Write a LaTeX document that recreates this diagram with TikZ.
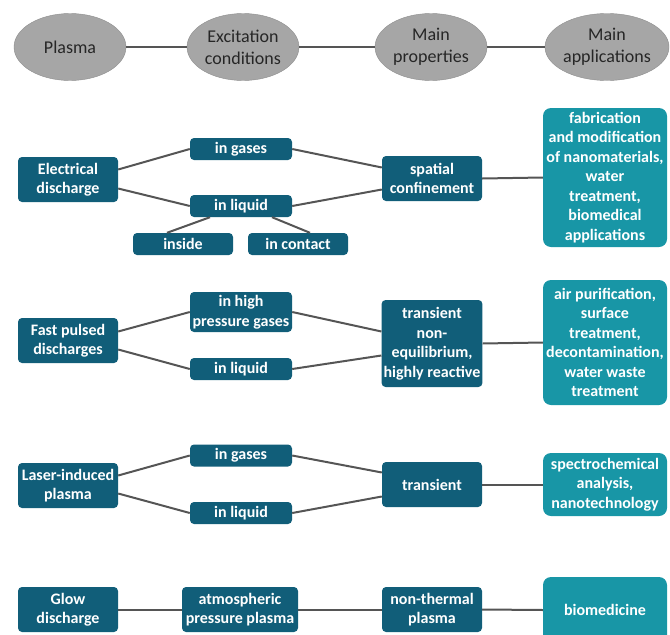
\documentclass[tikz,border=0pt]{standalone}
\usepackage{fontspec}
\setmainfont{Carlito}
\usetikzlibrary{shapes.geometric}
\definecolor{darkteal}{RGB}{17,94,121}
\definecolor{lightteal}{RGB}{24,150,166}
\definecolor{ovalgray}{RGB}{166,166,166}
\definecolor{linegray}{RGB}{85,85,85}

\begin{document}
\begin{tikzpicture}[x=1pt,y=-1pt,
	oval/.style={ellipse, fill=ovalgray, draw=ovalgray!85!black, minimum width=112pt, minimum height=67pt, inner sep=0pt, align=center, text=black!85, font=\fontsize{18}{22}\selectfont},
	dbox/.style={rectangle, rounded corners=4pt, fill=darkteal, text=white, minimum width=100pt, minimum height=22pt, inner sep=2pt, align=center, font=\fontsize{16}{19.5}\selectfont\bfseries},
	lbox/.style={dbox, fill=lightteal, minimum width=124pt, rounded corners=8pt},
	link/.style={draw=linegray, line width=2pt}]
	\useasboundingbox (0,0) rectangle (670,635);

	\node[oval] (plasma) at (70,47) {Plasma};
	\node[oval] (excit) at (243,47) {Excitation\\conditions};
	\node[oval] (props) at (431,47) {Main\\properties};
	\node[oval] (appl) at (607,47) {Main\\applications};
	\draw[link] (plasma.east) -- (excit.west);
	\draw[link] (excit.east) -- (props.west);
	\draw[link] (props.east) -- (appl.west);

	\node[dbox, minimum height=45pt] (elec) at (68,179.5) {Electrical\\discharge};
	\node[dbox, minimum width=102pt] (gasA) at (241,149) {in gases};
	\node[dbox, minimum width=102pt] (liqA) at (241,206) {in liquid};
	\node[dbox] (inside) at (183,244) {inside};
	\node[dbox] (contact) at (298,244) {in contact};
	\node[dbox, minimum height=45pt] (spatial) at (432,178.5) {spatial\\confinement};
	\node[lbox, minimum height=139pt] (fabr) at (605,177.5) {fabrication\\and modification\\of nanomaterials,\\water\\treatment,\\biomedical\\applications};
	\draw[link] ([yshift=10pt]elec.east) -- (gasA.west);
	\draw[link] ([yshift=-9pt]elec.east) -- (liqA.west);
	\draw[link] (gasA.east) -- ([yshift=11pt]spatial.west);
	\draw[link] (liqA.east) -- ([yshift=-11pt]spatial.west);
	\draw[link] ([xshift=-31pt]liqA.south) -- ([xshift=-16pt]inside.north);
	\draw[link] ([xshift=31pt]liqA.south) -- ([xshift=12pt]contact.north);
	\draw[link] (spatial.east) -- (fabr.west);

	\node[dbox, minimum height=45pt] (fast) at (68,340.5) {Fast pulsed\\discharges};
	\node[dbox, minimum width=102pt, minimum height=40pt] (gasB) at (241,312) {in high\\pressure gases};
	\node[dbox, minimum width=102pt] (liqB) at (241,369) {in liquid};
	\node[dbox, minimum height=87pt] (noneq) at (432,343.5) {transient\\non-\\equilibrium,\\highly reactive};
	\node[lbox, minimum height=125pt] (purif) at (605,342.5) {air purification,\\surface\\treatment,\\decontamination,\\water waste\\treatment};
	\draw[link] ([yshift=9pt]fast.east) -- (gasB.west);
	\draw[link] ([yshift=-9pt]fast.east) -- (liqB.west);
	\draw[link] (gasB.east) -- ([yshift=12pt]noneq.west);
	\draw[link] (liqB.east) -- ([yshift=-12pt]noneq.west);
	\draw[link] (noneq.east) -- (purif.west);

	\node[dbox, minimum height=45pt] (laser) at (68,485.5) {Laser-induced\\plasma};
	\node[dbox, minimum width=102pt] (gasC) at (241,455.5) {in gases};
	\node[dbox, minimum width=102pt] (liqC) at (241,513) {in liquid};
	\node[dbox, minimum height=45pt] (trans) at (432,484.5) {transient};
	\node[lbox, minimum height=63pt] (spectro) at (605,484.5) {spectrochemical\\analysis,\\nanotechnology};
	\draw[link] ([yshift=10pt]laser.east) -- (gasC.west);
	\draw[link] ([yshift=-8pt]laser.east) -- (liqC.west);
	\draw[link] (gasC.east) -- ([yshift=12pt]trans.west);
	\draw[link] (liqC.east) -- ([yshift=-12pt]trans.west);
	\draw[link] (trans.east) -- (spectro.west);

	\node[dbox, minimum height=45pt] (glow) at (68,609.5) {Glow\\discharge};
	\node[dbox, minimum width=116pt, minimum height=45pt] (atmos) at (240,609.5) {atmospheric\\pressure plasma};
	\node[dbox, minimum height=45pt] (nonth) at (432,609.5) {non-thermal\\plasma};
	\node[lbox, minimum height=66pt] (biomed) at (605,610) {biomedicine};
	\draw[link] (glow.east) -- (atmos.west);
	\draw[link] (atmos.east) -- (nonth.west);
	\draw[link] (nonth.east) -- (biomed.west);
\end{tikzpicture}
\end{document}
